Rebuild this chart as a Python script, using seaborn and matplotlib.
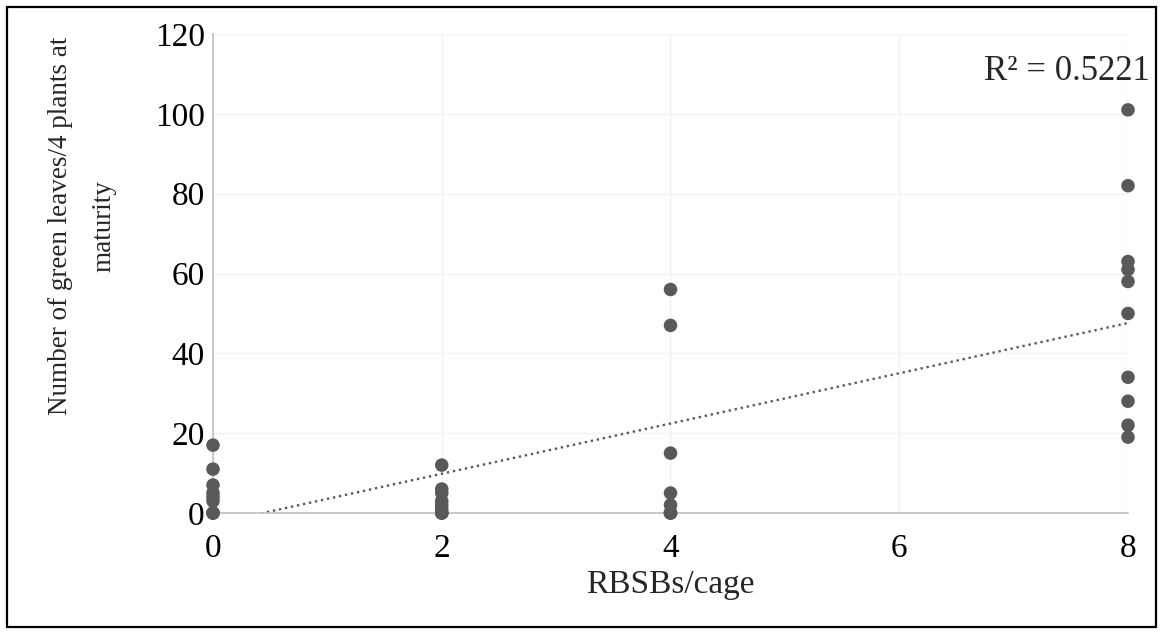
import numpy as np
import pandas as pd
import matplotlib
matplotlib.use("Agg")
import matplotlib.pyplot as plt
import seaborn as sns
from matplotlib.patches import Rectangle

# ---- data (a few overlapping zeros estimated) ----
rbsb_levels = [0, 2, 4, 8]
leaves_0 = [17, 11, 7, 5, 4, 3, 0, 0, 0]
leaves_2 = [12, 6, 5, 3, 2, 1, 0, 0, 0]
leaves_4 = [56, 47, 15, 5, 2, 0, 0, 0]
leaves_8 = [101, 82, 63, 61, 58, 50, 34, 28, 22, 19]
x_ticks = [0, 2, 4, 6, 8]
y_ticks = [0, 20, 40, 60, 80, 100, 120]
r2_label = "R² = 0.5221"
x_title = "RBSBs/cage"
y_title = "Number of green leaves/4 plants at\nmaturity"

groups = [leaves_0, leaves_2, leaves_4, leaves_8]
df = pd.DataFrame({
    "rbsb": np.concatenate([[lvl] * len(g) for lvl, g in zip(rbsb_levels, groups)]),
    "leaves": np.concatenate(groups),
})

sns.set_theme(style="white")
plt.rcParams["font.family"] = ["Liberation Serif", "DejaVu Serif"]

fig = plt.figure(figsize=(11.62, 6.34), dpi=100)
ax = fig.add_axes([213 / 1162, 1 - 513 / 634, 915 / 1162, 479 / 634])

ax.grid(True, color="#F2F2F2", lw=1)
ax.set_axisbelow(True)

# linear trendline fitted to the data
slope, intercept = np.polyfit(df["rbsb"], df["leaves"], 1)
xs = np.array([0.0, 8.0])
sns.lineplot(x=xs, y=slope * xs + intercept, ax=ax, color="#595959",
             lw=1.7, linestyle=(0, (1, 1.6)), zorder=2)

sns.scatterplot(data=df, x="rbsb", y="leaves", ax=ax, color="#595959",
                s=95, edgecolor="none", clip_on=False, zorder=3)

ax.set_xlim(0, 8)
ax.set_ylim(0, 120)
ax.set_xticks(x_ticks)
ax.set_yticks(y_ticks)
ax.tick_params(axis="both", length=0, labelsize=24, colors="black")
ax.tick_params(axis="x", pad=15)
ax.tick_params(axis="y", pad=6)

for side in ["top", "right"]:
    ax.spines[side].set_visible(False)
for side in ["left", "bottom"]:
    ax.spines[side].set_color("#BFBFBF")
    ax.spines[side].set_linewidth(1.2)

ax.set_xlabel(x_title, fontsize=24, labelpad=4)
ax.set_ylabel(y_title, fontsize=19.5, multialignment="center", linespacing=1.95)
ax.yaxis.label.set_va("center")
ax.yaxis.set_label_coords(-0.143, 0.60)

ax.text(1.024, 0.921, r2_label, transform=ax.transAxes, ha="right",
        va="center", fontsize=25)

fig.add_artist(Rectangle((7 / 1162, 7 / 634), 1149 / 1162, 620 / 634,
                         transform=fig.transFigure, fill=False,
                         ec="black", lw=1.6))

fig.savefig("out.png", dpi=100)
